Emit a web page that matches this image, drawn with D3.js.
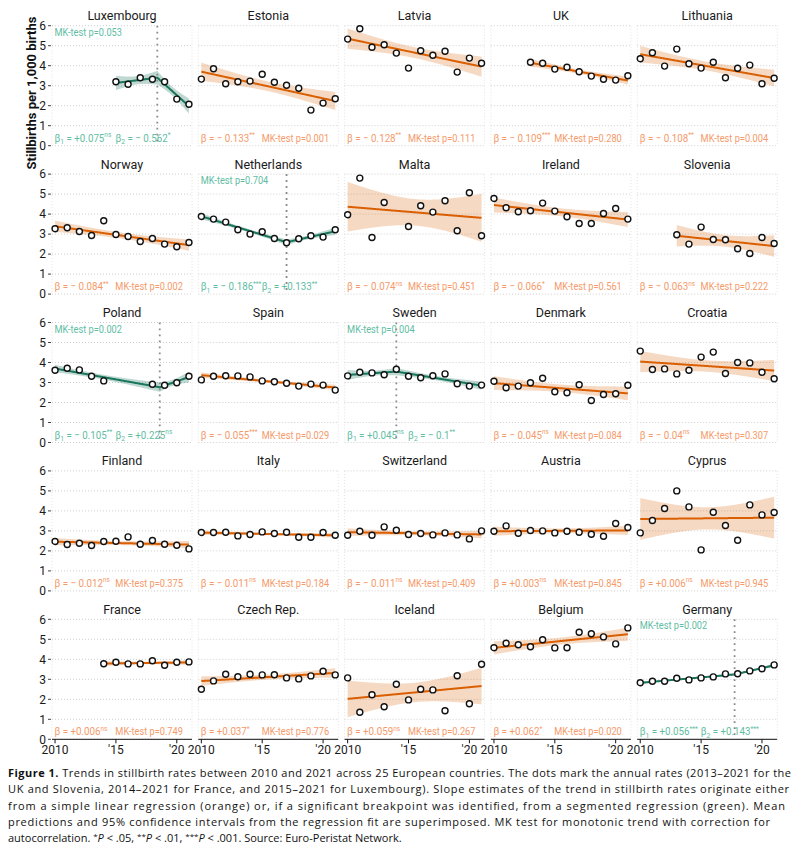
<!DOCTYPE html>
<html>
<head>
<meta charset="utf-8">
<script src="https://cdn.jsdelivr.net/npm/d3@7"></script>
<style>
  body { margin: 0; background: #fff; }
  svg { display: block; }
</style>
</head>
<body>
<svg width="800" height="846"></svg>
<script>
// Stillbirths per 1,000 births, 2010-2021 (null = no data for that year)
var years = [2010, 2011, 2012, 2013, 2014, 2015, 2016, 2017, 2018, 2019, 2020, 2021];

var countries = [
  "Luxembourg", "Estonia", "Latvia", "UK", "Lithuania",
  "Norway", "Netherlands", "Malta", "Ireland", "Slovenia",
  "Poland", "Spain", "Sweden", "Denmark", "Croatia",
  "Finland", "Italy", "Switzerland", "Austria", "Cyprus",
  "France", "Czech Rep.", "Iceland", "Belgium", "Germany"
];

var luxembourg  = [null, null, null, null, null, 3.2, 3.07, 3.4, 3.32, 3.2, 2.33, 2.07];
var estonia     = [3.33, 3.85, 3.1, 3.2, 3.23, 3.57, 3.17, 3.02, 2.87, 1.78, 2.13, 2.35];
var latvia      = [5.33, 5.85, 4.92, 5.05, 4.63, 3.88, 4.75, 4.52, 4.72, 3.68, 4.38, 4.12];
var uk          = [null, null, null, 4.17, 4.12, 3.83, 3.92, 3.7, 3.48, 3.32, 3.28, 3.5];
var lithuania   = [4.35, 4.65, 3.98, 4.83, 4.1, 3.88, 4.17, 3.4, 3.87, 4.03, 3.1, 3.37];
var norway      = [3.27, 3.32, 3.13, 2.93, 3.67, 2.98, 2.88, 2.63, 2.78, 2.5, 2.37, 2.58];
var netherlands = [3.88, 3.75, 3.6, 3.22, 3.0, 3.12, 2.78, 2.57, 2.77, 2.92, 2.85, 3.22];
var malta       = [3.97, 5.8, 2.83, 4.58, null, 3.38, 4.42, 4.1, 4.67, 3.17, 5.07, 2.92];
var ireland     = [4.78, 4.32, 4.12, 4.17, 4.55, 4.15, 3.87, 3.53, 3.53, 4.03, 4.28, 3.75];
var slovenia    = [null, null, null, 2.97, 2.5, 3.35, 2.73, 2.72, 2.27, 2.03, 2.83, 2.53];
var poland      = [3.61, 3.71, 3.63, 3.31, 3.08, null, null, null, 2.91, 2.86, 2.99, 3.31];
var spain       = [3.13, 3.31, 3.34, 3.33, 3.28, 3.08, 3.04, 2.96, 2.82, 2.92, 2.87, 2.62];
var sweden      = [3.33, 3.51, 3.48, 3.39, 3.66, 3.31, 3.24, 3.34, 3.43, 2.94, 2.82, 2.87];
var denmark     = [3.06, 2.74, 2.82, 2.99, 3.21, 2.54, 2.49, 2.89, 2.1, 2.4, 2.44, 2.86];
var croatia     = [4.57, 3.65, 3.68, 3.43, 3.61, 4.27, 4.52, 3.45, 4.0, 3.98, 3.51, 3.19];
var finland     = [2.47, 2.32, 2.38, 2.27, 2.47, 2.48, 2.7, 2.33, 2.52, 2.33, 2.28, 2.1];
var italy       = [2.92, 2.92, 2.93, 2.75, 2.82, 2.95, 2.87, 2.93, 2.68, 2.68, 2.92, 2.78];
var switzerland = [2.78, 2.98, 2.78, 3.2, 3.03, 2.82, 2.87, 2.8, 2.9, 2.8, 2.6, 3.0];
var austria     = [2.98, 3.25, 2.88, 3.02, 3.0, 2.9, 2.98, 2.93, 2.83, 2.73, 3.37, 3.17];
var cyprus      = [2.9, 3.52, 4.12, 5.0, 4.2, 2.05, 3.93, 3.27, 2.53, 4.3, 3.8, 3.92];
var france      = [null, null, null, null, 3.78, 3.85, 3.77, 3.77, 3.93, 3.7, 3.85, 3.87];
var czech       = [2.5, 2.92, 3.25, 3.13, 3.25, 3.22, 3.23, 3.07, 3.02, 3.17, 3.4, 3.22];
var iceland     = [3.07, 1.35, 2.23, 1.63, 2.75, 1.97, 2.5, 2.47, 1.43, 3.18, 1.78, 3.75];
var belgium     = [4.58, 4.8, 4.73, 4.63, 4.98, 4.57, 4.58, 5.35, 5.28, 5.12, 4.77, 5.57];
var germany     = [2.83, 2.9, 2.9, 3.05, 2.97, 3.07, 3.12, 3.27, 3.28, 3.42, 3.53, 3.72];

var rates = [
  luxembourg, estonia, latvia, uk, lithuania,
  norway, netherlands, malta, ireland, slovenia,
  poland, spain, sweden, denmark, croatia,
  finland, italy, switzerland, austria, cyprus,
  france, czech, iceland, belgium, germany
];

// breakpoint year of the segmented fits (null = simple linear fit)
var breakYears = [
  2018.4, null, null, null, null,
  null, 2017, null, null, null,
  2018.6, null, 2014, null, null,
  null, null, null, null, null,
  null, null, null, null, 2017.75
];

var betaText = [
  ["+0.075", "−0.562"], ["−0.133"], ["−0.128"], ["−0.109"], ["−0.108"],
  ["−0.084"], ["−0.186", "+0.133"], ["−0.074"], ["−0.066"], ["−0.063"],
  ["−0.105", "+0.225"], ["−0.055"], ["+0.045", "−0.1"], ["−0.045"], ["−0.04"],
  ["−0.012"], ["−0.011"], ["−0.011"], ["+0.003"], ["+0.006"],
  ["+0.006"], ["+0.037"], ["+0.059"], ["+0.062"], ["+0.056", "+0.143"]
];

var betaStars = [
  ["ns", "*"], ["**"], ["**"], ["***"], ["**"],
  ["**"], ["***", "**"], ["ns"], ["*"], ["ns"],
  ["**", "ns"], ["***"], ["ns", "**"], ["ns"], ["ns"],
  ["ns"], ["ns"], ["ns"], ["ns"], ["ns"],
  ["ns"], ["*"], ["ns"], ["*"], ["***", "***"]
];

var mkP = [
  "0.053", "0.001", "0.111", "0.280", "0.004",
  "0.002", "0.704", "0.451", "0.561", "0.222",
  "0.002", "0.029", "0.004", "0.084", "0.307",
  "0.375", "0.184", "0.409", "0.845", "0.945",
  "0.749", "0.776", "0.267", "0.020", "0.002"
];

var yTicks = [0, 1, 2, 3, 4, 5, 6];
var xTicks = [2010, 2015, 2020];
var xTickLabels = ["2010", "'15", "'20"];

var captionLines = [
  [["b", "Figure 1."], ["", " Trends in stillbirth rates between 2010 and 2021 across 25 European countries. The dots mark the annual rates (2013–2021 for the"]],
  [["", "UK and Slovenia, 2014–2021 for France, and 2015–2021 for Luxembourg). Slope estimates of the trend in stillbirth rates originate either"]],
  [["", "from a simple linear regression (orange) or, if a significant breakpoint was identified, from a segmented regression (green). Mean"]],
  [["", "predictions and 95% confidence intervals from the regression fit are superimposed. MK test for monotonic trend with correction for"]],
  [["", "autocorrelation. "], ["s", "*"], ["i", "P"], ["", " < .05, "], ["s", "**"], ["i", "P"], ["", " < .01, "],
   ["s", "***"], ["i", "P"], ["", " < .001. Source: Euro-Peristat Network."]]
];
var captionWidths = [783, 781, 777, 762, null];

(function() {
  var svg = d3.select("svg"),
      left0 = 52, top0 = 25.7,
      pw = 140, ph = 120,
      colStep = 146.3, rowStep = 148.4,
      orange = "#d95f02", orangeText = "#f59a6a",
      teal = "#18765c", tealText = "#5fbda3",
      gridColor = "#cfcfcf";

  // two-sided 95% t quantiles by degrees of freedom
  var tq = [NaN, 12.706, 4.303, 3.182, 2.776, 2.571, 2.447, 2.365, 2.306, 2.262, 2.228];

  var x = d3.scaleLinear().domain([2009.75, 2021.25]).range([0, pw]),
      y = d3.scaleLinear().domain([0, 6]).range([ph, 0]);

  function invert(m) {
    var n = m.length, a = m.map(function(r, i) {
      return r.concat(d3.range(n).map(function(j) { return i == j ? 1 : 0; }));
    });
    for (var c = 0; c < n; c++) {
      var p = a[c][c];
      for (var k = 0; k < 2 * n; k++) a[c][k] /= p;
      for (var r = 0; r < n; r++) {
        if (r == c) continue;
        var f = a[r][c];
        for (k = 0; k < 2 * n; k++) a[r][k] -= f * a[c][k];
      }
    }
    return a.map(function(r) { return r.slice(n); });
  }

  // OLS fit, with a hinge term when a breakpoint is given; returns mean + 95% CI
  function fitModel(xs, ys, bp) {
    var n = xs.length, xm = d3.mean(xs);
    var feats = function(v) {
      return bp == null ? [1, v - xm] : [1, v - xm, Math.max(0, v - bp)];
    };
    var p = bp == null ? 2 : 3;
    var A = d3.range(p).map(function() { return d3.range(p).map(function() { return 0; }); }),
        b = d3.range(p).map(function() { return 0; });
    xs.forEach(function(v, i) {
      var f = feats(v);
      for (var j = 0; j < p; j++) {
        b[j] += f[j] * ys[i];
        for (var k = 0; k < p; k++) A[j][k] += f[j] * f[k];
      }
    });
    var Ai = invert(A);
    var coef = Ai.map(function(r) { return d3.sum(r, function(v, j) { return v * b[j]; }); });
    var pred = function(v) { var f = feats(v); return d3.sum(f, function(u, j) { return u * coef[j]; }); };
    var sse = d3.sum(xs, function(v, i) { return Math.pow(ys[i] - pred(v), 2); });
    var s2 = sse / (n - p), t = tq[n - p];
    return function(v) {
      var f = feats(v), q = 0;
      for (var j = 0; j < p; j++) for (var k = 0; k < p; k++) q += f[j] * Ai[j][k] * f[k];
      var m = pred(v), se = Math.sqrt(s2 * q);
      return {x: v, y: m, lo: m - t * se, hi: m + t * se};
    };
  }

  function condText(g, px, py, anchor, color, size, sx) {
    return g.append("text")
      .attr("transform", "translate(" + px + "," + py + ") scale(" + sx + ",1)")
      .attr("text-anchor", anchor)
      .attr("fill", color)
      .style("font-family", "Roboto, sans-serif")
      .style("font-size", size + "px");
  }

  function mkLabel(g, px, py, anchor, idx, color) {
    condText(g, px, py, anchor, color, 11, 0.84).text("MK-test p=" + mkP[idx]);
  }

  function betaLabel(g, px, py, idx, k, seg, color) {
    var t = condText(g, px, py, "start", color, 11.5, 0.85), s = betaText[idx][k];
    t.append("tspan").text("β");
    if (seg) t.append("tspan").attr("font-size", "8px").attr("dy", 2.5).text(k + 1);
    var sign = s.charAt(0) == "−" ? "− " : "+";
    t.append("tspan").attr("dy", seg ? -2.5 : 0).text(" = " + sign + s.slice(1));
    t.append("tspan").attr("font-size", "7.5px").attr("dy", -4.5).text(betaStars[idx][k]);
  }

  var plots = svg.append("g");

  countries.forEach(function(name, idx) {
    var row = Math.floor(idx / 5), col = idx % 5,
        bp = breakYears[idx], seg = bp != null,
        g = plots.append("g")
          .attr("transform", "translate(" + (left0 + col * colStep) + "," + (top0 + row * rowStep) + ")");

    var pts = years.map(function(yr, i) { return {year: yr, rate: rates[idx][i]}; })
      .filter(function(d) { return d.rate != null; });

    // grid + panel border
    g.selectAll(".grid").data(yTicks).enter().append("line")
      .attr("x1", 0).attr("x2", pw)
      .attr("y1", function(d) { return y(d); }).attr("y2", function(d) { return y(d); })
      .attr("stroke", gridColor).attr("stroke-width", 1).attr("stroke-dasharray", "1,2");
    g.selectAll(".vb").data([0, pw]).enter().append("line")
      .attr("x1", function(d) { return d; }).attr("x2", function(d) { return d; })
      .attr("y1", 0).attr("y2", ph)
      .attr("stroke", "#e2e2e2").attr("stroke-width", 1).attr("stroke-dasharray", "1,2");

    // title
    g.append("text")
      .attr("x", pw / 2).attr("y", -5.5)
      .attr("text-anchor", "middle")
      .attr("fill", "#1a1a1a")
      .style("font", "12.5px Roboto, sans-serif")
      .text(name);

    // fit
    var fit = fitModel(pts.map(function(d) { return d.year; }), pts.map(function(d) { return d.rate; }), bp),
        x0 = pts[0].year, x1 = pts[pts.length - 1].year,
        grid = d3.range(x0, x1, 0.05).concat([x1]);
    if (seg) grid.push(bp);
    grid.sort(d3.ascending);
    var curve = grid.map(fit), col1 = seg ? teal : orange;

    g.append("path").datum(curve)
      .attr("d", d3.area().x(function(d) { return x(d.x); })
        .y0(function(d) { return y(d.lo); }).y1(function(d) { return y(d.hi); }))
      .attr("fill", col1).attr("fill-opacity", seg ? 0.28 : 0.24);

    g.append("path").datum(curve)
      .attr("d", d3.line().x(function(d) { return x(d.x); }).y(function(d) { return y(d.y); }))
      .attr("fill", "none").attr("stroke", col1).attr("stroke-width", 2);

    // annotations
    var txtColor = seg ? tealText : orangeText;
    betaLabel(g, 2.5, ph - 4, idx, 0, seg, txtColor);
    if (seg) {
      betaLabel(g, 63.5, ph - 4, idx, 1, seg, txtColor);
      mkLabel(g, 2.5, 10, "start", idx, txtColor);
    } else {
      mkLabel(g, x(2020.5), ph - 4, "end", idx, txtColor);
    }

    // breakpoint marker
    if (seg) {
      g.append("line")
        .attr("x1", x(bp)).attr("x2", x(bp)).attr("y1", 0).attr("y2", ph)
        .attr("stroke", "#8a8a8a").attr("stroke-width", 1.8).attr("stroke-dasharray", "1.8,4.2");
    }

    // observed rates
    g.selectAll(".pt").data(pts).enter().append("circle")
      .attr("cx", function(d) { return x(d.year); })
      .attr("cy", function(d) { return y(d.rate); })
      .attr("r", 3)
      .attr("fill", "#fff").attr("stroke", "#111").attr("stroke-width", 1.4);

    // y axis on the first column
    if (col == 0) {
      g.selectAll(".yt").data(yTicks).enter().append("line")
        .attr("x1", -4).attr("x2", -1)
        .attr("y1", function(d) { return y(d); }).attr("y2", function(d) { return y(d); })
        .attr("stroke", "#444");
      g.selectAll(".yl").data(yTicks).enter().append("text")
        .attr("x", -6).attr("y", function(d) { return y(d) + 4.3; })
        .attr("text-anchor", "end").attr("fill", "#1a1a1a")
        .style("font", "12px Roboto, sans-serif")
        .text(function(d) { return d; });
    }

    // x axis on the last row
    if (row == 4) {
      g.append("line").attr("x1", 0).attr("x2", pw).attr("y1", ph).attr("y2", ph)
        .attr("stroke", "#111").attr("stroke-width", 1);
      g.selectAll(".xt").data(xTicks).enter().append("line")
        .attr("x1", function(d) { return x(d); }).attr("x2", function(d) { return x(d); })
        .attr("y1", ph).attr("y2", ph + 4)
        .attr("stroke", "#111");
      g.selectAll(".xl").data(xTicks).enter().append("text")
        .attr("x", function(d) { return x(d); }).attr("y", ph + 14.5)
        .attr("text-anchor", "middle").attr("fill", "#1a1a1a")
        .style("font", "12px Roboto, sans-serif")
        .text(function(d, i) { return xTickLabels[i]; });
    }
  });

  svg.append("text")
    .attr("transform", "translate(36,93) rotate(-90)")
    .attr("text-anchor", "middle")
    .attr("fill", "#111")
    .style("font", "bold 13px Roboto, sans-serif")
    .text("Stillbirths per 1,000 births");

  // caption
  captionLines.forEach(function(parts, i) {
    var t = svg.append("text")
      .attr("x", 8).attr("y", 777 + i * 16.25)
      .attr("fill", "#111")
      .style("font-family", "'Open Sans', sans-serif")
      .style("font-size", "11px");
    if (captionWidths[i]) t.attr("textLength", captionWidths[i]).attr("lengthAdjust", "spacing");
    parts.forEach(function(p) {
      var s = t.append("tspan").text(p[1]);
      if (p[0] == "b") s.style("font-weight", "bold");
      if (p[0] == "i") s.style("font-style", "italic").attr("dy", 3.5);
      if (p[0] == "s") s.style("font-size", "8px").attr("dy", -3.5);
    });
  });
})();
</script>
</body>
</html>
